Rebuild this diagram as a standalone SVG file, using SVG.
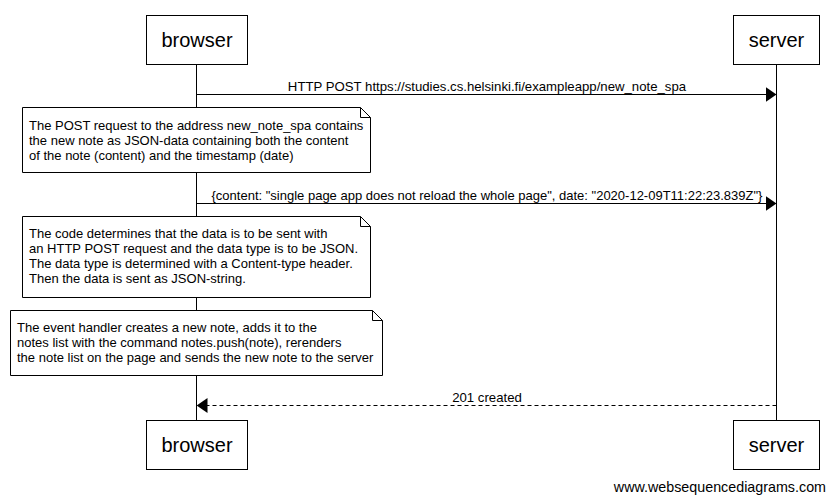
<svg xmlns="http://www.w3.org/2000/svg" width="834" height="503" viewBox="0 0 834 503">
<style>
text{font-family:"Liberation Sans",Arial,sans-serif;fill:#000}
.actor rect{fill:#fff;stroke:#000;stroke-width:1}
.actor text{font-size:20px;text-anchor:middle}
.life{stroke:#000;stroke-width:1}
.msg{stroke:#000;stroke-width:1;fill:none}
.dash{stroke-dasharray:4,3}
.lbl{font-size:13.2px;text-anchor:middle}
.lbl.long{font-size:13px}
.note path{fill:#fff;stroke:#000;stroke-width:1}
.note text{font-size:13px}
.foot{font-size:14.3px;text-anchor:end}
</style>
<defs>
<marker id="ah" markerWidth="11" markerHeight="15" refX="11" refY="7.5" orient="auto" markerUnits="userSpaceOnUse">
<path d="M0,0 L11,7.5 L0,15 Z" fill="#000"/>
</marker>
</defs>
<rect width="834" height="503" fill="#fff"/>
<g id="lifelines">
<line class="life" x1="196.5" y1="64" x2="196.5" y2="420"/>
<line class="life" x1="776.5" y1="64" x2="776.5" y2="420"/>
</g>
<g id="connectors">
<line class="msg" x1="196.5" y1="94.5" x2="776.5" y2="94.5" marker-end="url(#ah)"/>
<text class="lbl" x="487" y="91">HTTP POST https://studies.cs.helsinki.fi/exampleapp/new_note_spa</text>
<line class="msg" x1="196.5" y1="203.5" x2="776.5" y2="203.5" marker-end="url(#ah)"/>
<text class="lbl long" x="487" y="200">{content: "single page app does not reload the whole page", date: "2020-12-09T11:22:23.839Z"}</text>
<line class="msg dash" x1="776.5" y1="405.5" x2="196.5" y2="405.5" marker-end="url(#ah)"/>
<text class="lbl" x="487" y="402">201 created</text>
</g>
<g id="browser-top" class="actor"><rect x="146.5" y="15.5" width="101" height="49"/><text x="197" y="47">browser</text></g>
<g id="server-top" class="actor"><rect x="733.5" y="15.5" width="86" height="49"/><text x="776.5" y="47">server</text></g>
<g id="browser-bottom" class="actor"><rect x="146.5" y="420.5" width="101" height="49"/><text x="197" y="452">browser</text></g>
<g id="server-bottom" class="actor"><rect x="733.5" y="420.5" width="86" height="49"/><text x="776.5" y="452">server</text></g>
<g id="note1" class="note">
<path d="M22.5,107.5 H360.5 L370.5,117.5 V172.5 H22.5 Z M360.5,107.5 V117.5 H370.5"/>
<text x="29" y="130">The POST request to the address new_note_spa contains</text>
<text x="29" y="145">the new note as JSON-data containing both the content</text>
<text x="29" y="160">of the note (content) and the timestamp (date)</text>
</g>
<g id="note2" class="note">
<path d="M22.5,216.5 H360.5 L370.5,226.5 V297.5 H22.5 Z M360.5,216.5 V226.5 H370.5"/>
<text x="29" y="238">The code determines that the data is to be sent with</text>
<text x="29" y="253">an HTTP POST request and the data type is to be JSON.</text>
<text x="29" y="268">The data type is determined with a Content-type header.</text>
<text x="29" y="283">Then the data is sent as JSON-string.</text>
</g>
<g id="note3" class="note">
<path d="M10.5,310.5 H372.5 L382.5,320.5 V375.5 H10.5 Z M372.5,310.5 V320.5 H382.5"/>
<text x="17" y="332">The event handler creates a new note, adds it to the</text>
<text x="17" y="347">notes list with the command notes.push(note), rerenders</text>
<text x="17" y="362">the note list on the page and sends the new note to the server</text>
</g>
<text class="foot" x="826" y="492">www.websequencediagrams.com</text>
</svg>
